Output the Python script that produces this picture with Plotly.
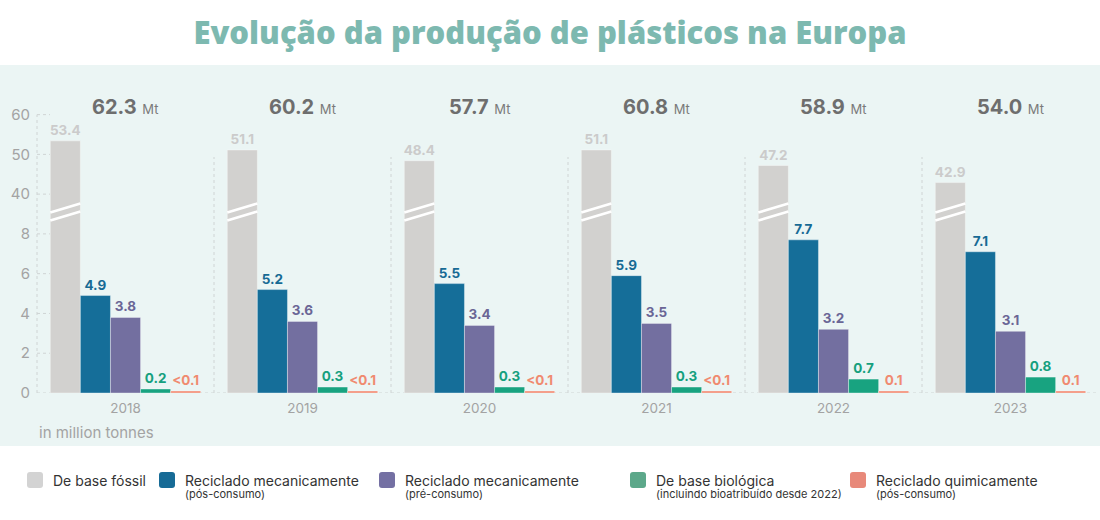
import plotly.graph_objects as go

years = ["2018", "2019", "2020", "2021", "2022", "2023"]
fossil = [53.4, 51.1, 48.4, 51.1, 47.2, 42.9]
mech_post = [4.9, 5.2, 5.5, 5.9, 7.7, 7.1]
mech_pre = [3.8, 3.6, 3.4, 3.5, 3.2, 3.1]
bio = [0.2, 0.3, 0.3, 0.3, 0.7, 0.8]
chem = [0.1, 0.1, 0.1, 0.1, 0.1, 0.1]
chem_labels = ["<0.1", "<0.1", "<0.1", "<0.1", "0.1", "0.1"]
totals = [62.3, 60.2, 57.7, 60.8, 58.9, 54.0]

lower_ticks = [0, 2, 4, 6, 8]
upper_ticks = [40, 50, 60]

legend_names = ["De base fóssil", "Reciclado mecanicamente", "Reciclado mecanicamente",
                "De base biológica", "Reciclado quimicamente"]
legend_subs = ["", "(pós-consumo)", "(pré-consumo)",
               "(incluindo bioatribuído desde 2022)", "(pós-consumo)"]

bar_colors = ["#D2D1CF", "#156E99", "#736FA0", "#18A380", "#F28B73"]
label_colors = ["#CBCBCB", "#176A94", "#6A6696", "#16A07E", "#F08A70"]
legend_colors = ["#D3D3D3", "#176B96", "#7470A3", "#5CA88A", "#E8897A"]

FONT = "Inter"
W, H = 1100, 520
ML, MR, MT, MB = 37, 1, 99, 127
PW = W - ML - MR
PH = H - MT - MB
split = 179 / PH  # lower subplot domain fraction

BW = 0.17
OFF0 = -0.425


def px2x(px):
    return (px - ML) / PW


def py2y(py):
    return (H - MB - py) / PH


fig = go.Figure()

series = [fossil, mech_post, mech_pre, bio, chem]
texts = [
    [f"{v:.1f}" for v in fossil],
    [f"{v:.1f}" for v in mech_post],
    [f"{v:.1f}" for v in mech_pre],
    [f"{v:.1f}" for v in bio],
    chem_labels,
]

for k, vals in enumerate(series):
    show_text = k != 0
    fig.add_trace(go.Bar(
        x=years, y=vals, width=BW, offset=OFF0 + k * BW,
        marker=dict(color=bar_colors[k], line=dict(color="rgba(255,255,255,0.6)", width=0.6)),
        text=texts[k] if show_text else None,
        textposition="outside" if show_text else "none",
        textfont=dict(family=FONT, size=13.5, color=label_colors[k], weight=700),
        constraintext="none", cliponaxis=False if show_text else True,
        xaxis="x", yaxis="y", showlegend=False, hoverinfo="skip",
    ))

# upper part of the broken axis: fossil bars continue
fig.add_trace(go.Bar(
    x=years, y=fossil, width=BW, offset=OFF0,
    marker=dict(color=bar_colors[0], line=dict(color="rgba(255,255,255,0.6)", width=0.6)),
    text=texts[0], textposition="outside",
    textfont=dict(family=FONT, size=13.5, color=label_colors[0], weight=700),
    constraintext="none", cliponaxis=False,
    xaxis="x", yaxis="y2", showlegend=False, hoverinfo="skip",
))

shapes = []
# mint background band
shapes.append(dict(type="rect", xref="paper", yref="paper",
                   x0=px2x(0), x1=px2x(W), y0=py2y(446), y1=py2y(65),
                   fillcolor="#EBF5F4", line=dict(width=0), layer="below"))

grid = dict(color="#CFD4D4", width=1, dash="3px,3px")
# left axis line
shapes.append(dict(type="line", xref="paper", yref="paper", x0=0, x1=0,
                   y0=0, y1=py2y(114.6), line=grid, layer="below"))
# baseline
shapes.append(dict(type="line", xref="paper", yref="y", x0=0, x1=1, y0=0, y1=0,
                   line=grid, layer="below"))
# short tick marks
for t in lower_ticks[1:]:
    shapes.append(dict(type="line", xref="paper", yref="y", x0=0, x1=13 / PW,
                       y0=t, y1=t, line=grid, layer="below"))
for t in upper_ticks:
    shapes.append(dict(type="line", xref="paper", yref="y2", x0=0, x1=13 / PW,
                       y0=t, y1=t, line=grid, layer="below"))
# separators between years
for i in range(1, len(years)):
    shapes.append(dict(type="line", xref="x", yref="paper", x0=i - 0.5, x1=i - 0.5,
                       y0=0, y1=py2y(157), line=grid, layer="below"))
# axis break stripes on fossil bars
for i in range(len(years)):
    xa = i + OFF0
    xb = i + OFF0 + BW
    for yl, yr in [(212.5, 203.5), (220.5, 211.5)]:
        shapes.append(dict(type="line", xref="x", yref="paper", x0=xa, x1=xb,
                           y0=py2y(yl), y1=py2y(yr),
                           line=dict(color="#FFFFFF", width=2.6), layer="above"))

annotations = []
# totals (x given as category index)
for i, t in enumerate(totals):
    annotations.append(dict(
        x=i, y=py2y(107), xref="x", yref="paper", showarrow=False,
        text=f"<b>{t:.1f}</b> <span style='font-size:13px;color:#7A7A7A'>Mt</span>",
        font=dict(family=FONT, size=20, color="#6E6E6E"), xanchor="center", yanchor="middle"))

annotations.append(dict(x=px2x(37), y=py2y(432), xref="paper", yref="paper", showarrow=False,
                        text="in million tonnes", xanchor="left", yanchor="middle",
                        font=dict(family=FONT, size=15, color="#A3A3A3")))

# legend (manual)
leg_x = [27, 159, 379, 630, 850]
for k in range(5):
    x0 = leg_x[k]
    x1 = x0 + 16
    yt, yb = 472, 488
    r = 3
    path = (f"M {px2x(x0 + r)},{py2y(yt)} L {px2x(x1 - r)},{py2y(yt)} "
            f"Q {px2x(x1)},{py2y(yt)} {px2x(x1)},{py2y(yt + r)} "
            f"L {px2x(x1)},{py2y(yb - r)} Q {px2x(x1)},{py2y(yb)} {px2x(x1 - r)},{py2y(yb)} "
            f"L {px2x(x0 + r)},{py2y(yb)} Q {px2x(x0)},{py2y(yb)} {px2x(x0)},{py2y(yb - r)} "
            f"L {px2x(x0)},{py2y(yt + r)} Q {px2x(x0)},{py2y(yt)} {px2x(x0 + r)},{py2y(yt)} Z")
    shapes.append(dict(type="path", xref="paper", yref="paper", path=path,
                       fillcolor=legend_colors[k], line=dict(width=0), layer="above"))
    annotations.append(dict(x=px2x(x1 + 8), y=py2y(480), xref="paper", yref="paper",
                            showarrow=False, text=legend_names[k], xanchor="left",
                            yanchor="middle", font=dict(family=FONT, size=14, color="#333333")))
    if legend_subs[k]:
        annotations.append(dict(x=px2x(x1 + 8), y=py2y(494), xref="paper", yref="paper",
                                showarrow=False, text=legend_subs[k], xanchor="left",
                                yanchor="middle", font=dict(family=FONT, size=11, color="#333333")))

fig.update_layout(
    width=W, height=H,
    margin=dict(l=ML, r=MR, t=MT, b=MB),
    paper_bgcolor="#FFFFFF", plot_bgcolor="rgba(0,0,0,0)",
    barmode="overlay",
    title=dict(text="Evolução da produção de plásticos na Europa", x=0.5, xref="container",
               xanchor="center", y=1 - 33 / H, yanchor="middle",
               font=dict(family="Open Sans", size=31, color="#7DB9B0", weight=800)),
    xaxis=dict(type="category", domain=[0, 1], anchor="y", showgrid=False, zeroline=False,
               showline=False, ticks="", tickfont=dict(family=FONT, size=13.5, color="#A3A3A3"),
               ticklabelstandoff=5, range=[-0.5, len(years) - 0.5]),
    yaxis=dict(domain=[0, split], range=[0, 9], tickvals=lower_ticks, showgrid=False,
               zeroline=False, showline=False, ticks="", ticklabelstandoff=6,
               tickfont=dict(family=FONT, size=15, color="#A3A3A3")),
    yaxis2=dict(domain=[split, 1], range=[35, 35 + (PH - 179) / 3.975], tickvals=upper_ticks,
                anchor="x", showgrid=False, zeroline=False, showline=False, ticks="",
                ticklabelstandoff=6, tickfont=dict(family=FONT, size=15, color="#A3A3A3")),
    shapes=shapes, annotations=annotations,
)

fig.write_html("out.html", config={"displayModeBar": False},
               post_script="document.body.style.margin='0';")
